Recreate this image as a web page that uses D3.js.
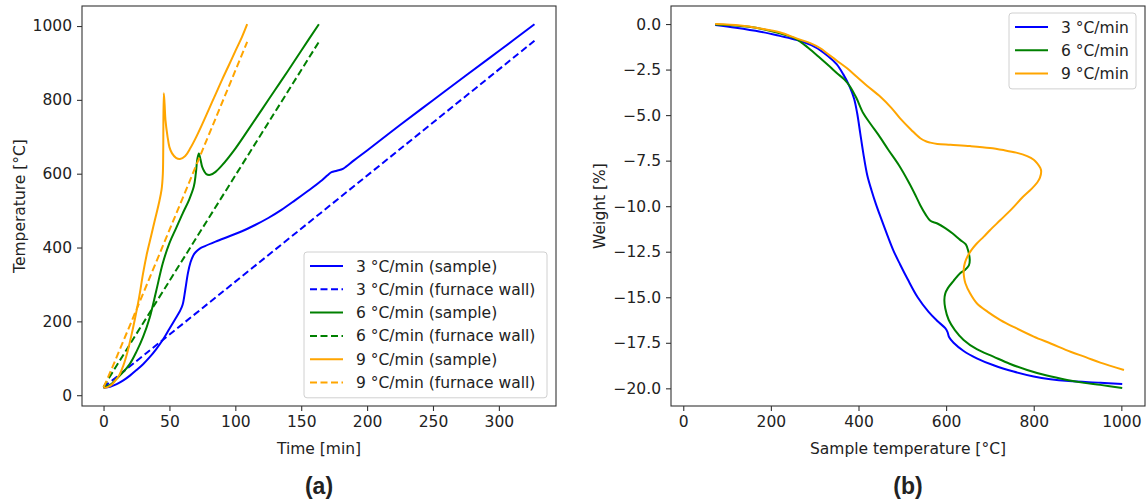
<!DOCTYPE html>
<html lang="en">
<head>
<meta charset="utf-8">
<title></title>
<script type="text/javascript" src="https://cdn.jsdelivr.net/npm/d3@7/dist/d3.min.js"></script>
<style type="text/css">
  body { margin: 0; background: #fff; }
  text { font-family: "DejaVu Sans", sans-serif; fill: #222; }
</style>
</head>
<body>
<script type="text/javascript">

// ---- data, panel (a): time [min] vs temperature [°C]
var sample3 = [[0,20],[5,23],[10,30],[15,40],[20,53],[25,68],[30,84],[35,103],[40,125],[45,150],[50,180],[55,210],
  [58,228],[60,245],[62,285],[64,330],[66,360],[68,378],[70,388],[73,397],[77,404],[85,416],[95,430],[105,444],
  [115,461],[125,480],[135,502],[145,527],[155,553],[166,583],[170,596],[173,604],[177,608],[182,614],[190,636],
  [200,663],[225,732],[250,799],[275,866],[301,935],[327,1005]];
var wall3 = [[0,22],[3,30],[327,960]];
var sample6 = [[0,20],[5,28],[10,45],[15,63],[20,85],[25,118],[30,158],[35,210],[40,283],[45,358],[50,412],[55,452],
  [60,492],[65,530],[68.5,565],[70,600],[71.2,640],[72.3,655],[73.5,640],[75,617],[78,599],[81,597],[85,605],
  [90,623],[100,668],[110,720],[120,773],[130,826],[140,879],[150,933],[163.4,1005]];
var wall6 = [[0,22],[3,40],[163.4,957]];
var sample9 = [[0,20],[3,22],[6,28],[9,40],[12,55],[15,80],[18,115],[21,160],[24,210],[27,265],[30,330],[33,385],
  [36,430],[39,475],[42,520],[44,556],[45,600],[45.7,818],[46.3,790],[47,745],[48.5,702],[50,672],[52,655],
  [55,643],[58,640],[62,648],[66,670],[70,697],[75,735],[80,775],[85,815],[90,855],[95,893],[100,932],[105,970],[109,1005]];
var wall9 = [[0,22],[3,45],[109,957]];

// ---- data, panel (b): sample temperature [°C] vs weight [%]
var tga3 = [[73,-0.05],[120,-0.2],[176,-0.42],[220,-0.65],[260,-0.88],[300,-1.25],[330,-1.75],[350,-2.2],[365,-2.75],
  [380,-3.45],[390,-4.1],[397,-4.9],[404,-6.0],[411,-7.1],[420,-8.3],[430,-9.15],[440,-9.9],[452,-10.7],[466,-11.6],
  [480,-12.45],[495,-13.2],[512,-14.0],[535,-15.0],[560,-15.8],[580,-16.3],[598,-16.7],[603,-16.9],[607,-17.2],
  [617,-17.5],[640,-17.95],[670,-18.35],[710,-18.75],[754,-19.08],[800,-19.35],[838,-19.5],[880,-19.6],[952,-19.69],[1002,-19.76]];
var tga6 = [[73,-0.02],[150,-0.15],[200,-0.38],[240,-0.65],[260,-0.85],[285,-1.3],[313,-1.88],[335,-2.35],[351,-2.7],
  [368,-3.05],[381,-3.44],[395,-4.05],[411,-4.9],[428,-5.5],[446,-6.1],[468,-6.9],[492,-7.74],[515,-8.7],[530,-9.4],
  [541,-9.95],[553,-10.45],[564,-10.8],[580,-10.95],[598,-11.2],[615,-11.5],[632,-11.85],[645,-12.1],[651,-12.5],
  [654,-12.95],[652,-13.25],[643,-13.5],[632,-13.68],[617,-14.1],[604,-14.5],[598,-14.8],[596,-15.15],[598,-15.6],
  [606,-16.25],[620,-16.8],[640,-17.34],[670,-17.85],[708,-18.26],[745,-18.65],[785,-18.99],[830,-19.3],[876,-19.54],
  [915,-19.7],[952,-19.81],[1002,-19.98]];
var tga9 = [[73,0],[130,-0.08],[176,-0.24],[220,-0.45],[260,-0.8],[290,-1.05],[313,-1.33],[328,-1.6],[350,-2.0],
  [374,-2.43],[396,-2.89],[420,-3.4],[450,-3.99],[475,-4.6],[495,-5.18],[520,-5.8],[541,-6.27],[555,-6.45],[564,-6.51],
  [580,-6.58],[610,-6.63],[655,-6.7],[700,-6.8],[731,-6.92],[760,-7.06],[785,-7.25],[800,-7.45],[808,-7.65],[815,-7.9],
  [817,-8.1],[814,-8.45],[808,-8.7],[795,-9.05],[775,-9.5],[750,-10.15],[724,-10.76],[700,-11.32],[686,-11.67],
  [670,-12.05],[658,-12.4],[649,-12.75],[643,-13.1],[640,-13.5],[641,-13.9],[644,-14.23],[655,-14.8],[670,-15.33],[695,-15.8],
  [724,-16.25],[760,-16.7],[800,-17.16],[840,-17.55],[884,-17.99],[920,-18.3],[952,-18.59],[1006,-18.99]];

// ticks and labels
var timeTicks = [0, 50, 100, 150, 200, 250, 300];
var tempTicks = [0, 200, 400, 600, 800, 1000];
var sampleTempTicks = [0, 200, 400, 600, 800, 1000];
var weightTicks = [0, -2.5, -5, -7.5, -10, -12.5, -15, -17.5, -20];
var rateNames = ["3 °C/min", "6 °C/min", "9 °C/min"];
var rateColors = ["blue", "green", "orange"];

var w = 1148, h = 504;
var fs = 15.5;

var svg = d3.select("body").append("svg")
  .attr("width", w)
  .attr("height", h);

var xA = d3.scaleLinear().domain([-16.35, 343.35]).range([82, 556]);
var yA = d3.scaleLinear().domain([-29.25, 1054.25]).range([406, 6]);
var xB = d3.scaleLinear().domain([-28, 1054]).range([671, 1145]);
var yB = d3.scaleLinear().domain([-20.97, 0.99]).range([406, 6]);

function drawAxes(x, y, xt, yt, yfmt, xlabel, ylabel, ylabX, panelLabel) {
  var x0 = x.range()[0], x1 = x.range()[1];
  var y0 = y.range()[0], y1 = y.range()[1];

  var gx = svg.append("g")
    .attr("transform", "translate(0," + y0 + ")")
    .call(d3.axisBottom(x).tickValues(xt).tickFormat(d3.format("d")).tickSize(5).tickPadding(5).tickSizeOuter(0));
  var gy = svg.append("g")
    .attr("transform", "translate(" + x0 + ",0)")
    .call(d3.axisLeft(y).tickValues(yt).tickFormat(yfmt).tickSize(5).tickPadding(5).tickSizeOuter(0));
  [gx, gy].forEach(function(g) {
    g.select(".domain").remove();
    g.selectAll(".tick line").attr("stroke", "#333").attr("stroke-width", 1.1);
    g.selectAll(".tick text").style("font-size", fs + "px").style("font-family", "DejaVu Sans").attr("fill", "#222");
  });

  svg.append("rect")
    .attr("x", x0).attr("y", y1)
    .attr("width", x1 - x0).attr("height", y0 - y1)
    .attr("fill", "none").attr("stroke", "#333").attr("stroke-width", 1.1);

  svg.append("text")
    .attr("x", (x0 + x1) / 2).attr("y", 454)
    .attr("text-anchor", "middle")
    .style("font-size", fs + "px")
    .text(xlabel);

  svg.append("text")
    .attr("transform", "translate(" + ylabX + "," + ((y0 + y1) / 2) + ") rotate(-90)")
    .attr("text-anchor", "middle")
    .style("font-size", fs + "px")
    .text(ylabel);

  svg.append("text")
    .attr("x", (x0 + x1) / 2).attr("y", 494)
    .attr("text-anchor", "middle")
    .style("font-family", "Liberation Sans, Arial, sans-serif")
    .style("font-weight", "bold")
    .style("font-size", "23px")
    .attr("fill", "#000")
    .text(panelLabel);
}

function drawLine(data, x, y, color, dashed) {
  var line = d3.line()
    .x(function(d) { return x(d[0]); })
    .y(function(d) { return y(d[1]); })
    .curve(d3.curveCatmullRom.alpha(0.5));
  svg.append("path")
    .datum(data)
    .attr("d", line)
    .attr("fill", "none")
    .attr("stroke", color)
    .attr("stroke-width", 2)
    .attr("stroke-dasharray", dashed ? "7,3.5" : null);
}

function drawLegend(items, left, top, width) {
  var rowH = 23.3;
  var g = svg.append("g");
  g.append("rect")
    .attr("x", left).attr("y", top)
    .attr("width", width).attr("height", items.length * rowH + 6)
    .attr("rx", 3)
    .attr("fill", "#fff").attr("fill-opacity", 0.8)
    .attr("stroke", "#d0d0d0");
  items.forEach(function(it, i) {
    var cy = top + 14 + i * rowH;
    g.append("line")
      .attr("x1", left + 6).attr("x2", left + 39)
      .attr("y1", cy).attr("y2", cy)
      .attr("stroke", it.color).attr("stroke-width", 2)
      .attr("stroke-dasharray", it.dashed ? "7,3.5" : null);
    g.append("text")
      .attr("x", left + 52).attr("y", cy).attr("dy", "0.36em")
      .style("font-size", fs + "px")
      .text(it.label);
  });
}

// panel (a)
drawAxes(xA, yA, timeTicks, tempTicks, d3.format("d"), "Time [min]", "Temperature [°C]", 25, "(a)");
var leftSeries = [[sample3, wall3], [sample6, wall6], [sample9, wall9]];
var legendA = [];
leftSeries.forEach(function(pair, i) {
  drawLine(pair[0], xA, yA, rateColors[i], false);
  drawLine(pair[1], xA, yA, rateColors[i], true);
  legendA.push({label: rateNames[i] + " (sample)", color: rateColors[i], dashed: false});
  legendA.push({label: rateNames[i] + " (furnace wall)", color: rateColors[i], dashed: true});
});
drawLegend(legendA, 304, 252, 243);

// panel (b)
drawAxes(xB, yB, sampleTempTicks, weightTicks, d3.format(".1f"), "Sample temperature [°C]", "Weight [%]", 605, "(b)");
var rightSeries = [tga3, tga6, tga9];
var legendB = [];
rightSeries.forEach(function(s, i) {
  drawLine(s, xB, yB, rateColors[i], false);
  legendB.push({label: rateNames[i], color: rateColors[i], dashed: false});
});
drawLegend(legendB, 1009, 13, 127);

</script>
</body>
</html>
